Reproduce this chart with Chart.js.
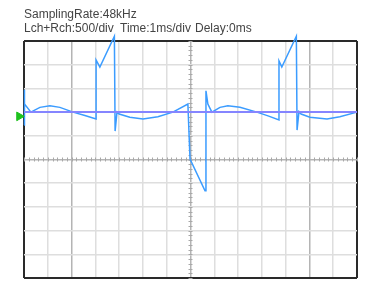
<!DOCTYPE html>
<html>
<head>
<meta charset="utf-8">
<script src="https://cdn.jsdelivr.net/npm/chart.js@4/dist/chart.umd.min.js"></script>
<style>
  body { margin: 0; background: #fff; }
  #wrap { position: relative; width: 382px; height: 300px; }
</style>
</head>
<body>
<div id="wrap"><canvas id="scope" width="382" height="300"></canvas></div>
<script>
// header texts
const rateText = 'SamplingRate:48kHz';
const infoParts = ['Lch+Rch:500/div', 'Time:1ms/div', 'Delay:0ms'];
const infoX = [24, 120, 195];

// time axis (ms) and signal level (500/div)
const timeMs = [0, 0, 0.04, 0.29, 0.67, 1.09, 1.51, 2.06, 2.56, 3.03, 3.03, 3.19, 3.80, 3.83, 3.91, 4.0,
    4.45, 5.0, 5.63, 6.26, 6.89, 6.98, 7.61, 7.65, 7.73, 7.90, 8.24, 8.57, 9.08, 9.79, 10.26, 10.72,
    10.72, 10.84, 11.45, 11.48, 11.56, 11.65, 12.02, 12.74, 13.28, 14.0];
const signal = [730, 1470, 1170, 1000, 1100, 1135, 1100, 1000, 930, 855, 2100, 1950, 2600, 600, 1000, 960,
    890, 855, 900, 1000, 1170, 10, -660, 1450, 1170, 1000, 1100, 1135, 1100, 1000, 920, 835,
    2080, 1950, 2600, 620, 1010, 960, 890, 855, 900, 1000];

// zero level line and its marker
const zeroLevel = 1000;
const markerLevel = 910;
const markerTime = -0.2;

const timeDiv = 1;      // ms per division
const timeRange = [0, 14];
const voltDiv = 500;
const voltRange = [-2500, 2500];

function gridColor(ctx, range, majors) {
    const v = ctx.tick.value;
    if (v === range[0] || v === range[1]) return '#2a2a2a';
    if (majors.includes(v)) return '#b4b4b4';
    return '#dedede';
}

const scopeDecor = {
    id: 'scopeDecor',
    beforeDatasetsDraw(chart) {
        const c = chart.ctx;
        const xs = chart.scales.x, ys = chart.scales.y;
        const cx = xs.getPixelForValue(7), cy = ys.getPixelForValue(0);
        c.save();
        c.strokeStyle = '#a8a8a8';
        c.lineWidth = 1;
        c.beginPath();
        for (let t = timeRange[0]; t <= timeRange[1] + 0.001; t += timeDiv / 5) {
            const px = Math.round(xs.getPixelForValue(t)) + 0.5;
            c.moveTo(px, cy - 2); c.lineTo(px, cy + 2);
        }
        for (let v = voltRange[0]; v <= voltRange[1]; v += voltDiv / 5) {
            const py = Math.round(ys.getPixelForValue(v)) + 0.5;
            c.moveTo(cx - 2, py); c.lineTo(cx + 2, py);
        }
        c.stroke();
        c.restore();
    },
    afterDraw(chart) {
        const c = chart.ctx;
        c.save();
        c.fillStyle = '#444';
        c.font = '12px "Liberation Sans", Arial, sans-serif';
        c.textBaseline = 'alphabetic';
        c.fillText(rateText, 24, 18);
        infoParts.forEach((s, i) => c.fillText(s, infoX[i], 32));
        c.restore();
    }
};

new Chart(document.getElementById('scope'), {
    type: 'scatter',
    data: {
        datasets: [{
            data: [{x: timeRange[0], y: zeroLevel}, {x: timeRange[1], y: zeroLevel}],
            showLine: true,
            borderColor: '#8585ff',
            borderWidth: 2,
            pointRadius: 0
        }, {
            data: [{x: markerTime, y: markerLevel}],
            pointStyle: 'triangle',
            rotation: 90,
            radius: 5,
            backgroundColor: '#1fc21f',
            borderColor: '#1fc21f',
            borderWidth: 1,
            clip: false
        }, {
            data: timeMs.map((t, i) => ({x: t, y: signal[i]})),
            showLine: true,
            borderColor: '#3b9cff',
            borderWidth: 1.5,
            pointRadius: 0,
            tension: 0,
            clip: false
        }]
    },
    options: {
        responsive: false,
        animation: false,
        events: [],
        layout: { padding: { left: 24, top: 41, right: 25, bottom: 22 } },
        plugins: { legend: { display: false }, tooltip: { enabled: false } },
        scales: {
            x: {
                type: 'linear',
                min: timeRange[0], max: timeRange[1],
                border: { display: false },
                ticks: { display: false, stepSize: timeDiv, autoSkip: false },
                grid: {
                    drawTicks: false,
                    color: ctx => gridColor(ctx, timeRange, [2, 7, 12]),
                    lineWidth: ctx => (ctx.tick.value === timeRange[0] || ctx.tick.value === timeRange[1]) ? 2 : 1.5
                }
            },
            y: {
                type: 'linear',
                min: voltRange[0], max: voltRange[1],
                border: { display: false },
                ticks: { display: false, stepSize: voltDiv, autoSkip: false },
                grid: {
                    drawTicks: false,
                    color: ctx => gridColor(ctx, voltRange, [0]),
                    lineWidth: ctx => (ctx.tick.value === voltRange[0] || ctx.tick.value === voltRange[1]) ? 2 : 1.5
                }
            }
        }
    },
    plugins: [scopeDecor]
});
</script>
</body>
</html>
